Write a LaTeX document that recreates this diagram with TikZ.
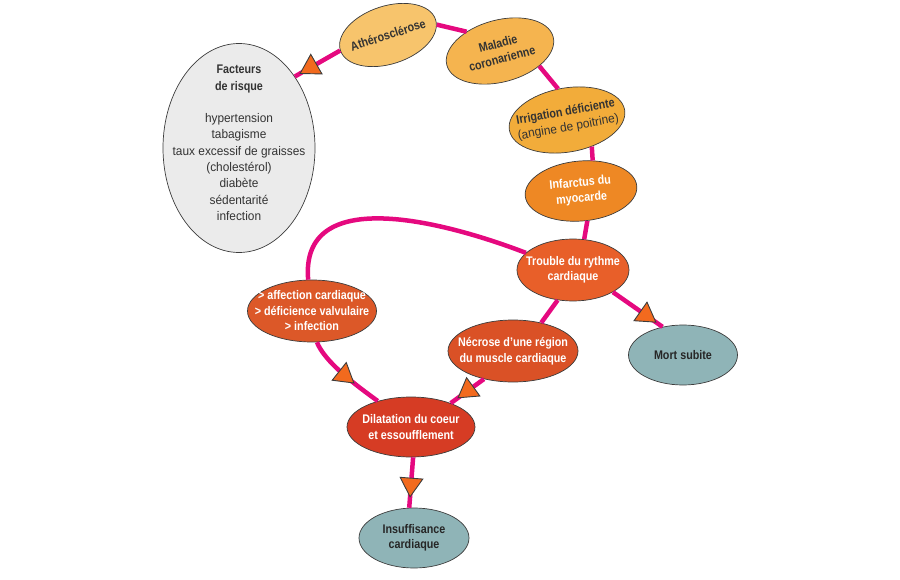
\documentclass[tikz,border=0pt]{standalone}
\usepackage{fontspec}
\setmainfont{Liberation Sans}[FakeStretch=0.95, BoldFeatures={FakeStretch=0.86}]
\usetikzlibrary{arrows.meta, shapes.geometric, decorations.markings}

\definecolor{lien}{HTML}{E5097F}
\definecolor{pointe}{HTML}{F26A1E}
\definecolor{bord}{HTML}{3C3C3C}
\definecolor{gris}{HTML}{EBEBEB}
\definecolor{athc}{HTML}{F7C46C}
\definecolor{malc}{HTML}{F5B44F}
\definecolor{irrc}{HTML}{F2AC3A}
\definecolor{infc}{HTML}{EE8824}
\definecolor{troc}{HTML}{E85F29}
\definecolor{affc}{HTML}{DC5828}
\definecolor{necc}{HTML}{DA5126}
\definecolor{dilc}{HTML}{D63C24}
\definecolor{finc}{HTML}{8FB4B7}
\definecolor{texte}{HTML}{333333}

\tikzset{
  tri/.tip={Triangle[width=24pt, length=20pt, fill=pointe, color=bord]},
  bulle/.style={ellipse, draw=bord, line width=0.7pt, inner sep=-20pt, align=center,
    font=\fontsize{12.5}{15.5}\selectfont\bfseries},
  clair/.style={bulle, text=texte},
  fonce/.style={bulle, text=white},
  issue/.style={bulle, fill=finc, text=black!85},
  trait/.style={draw=lien, line width=4.5pt},
  fleche/.style={postaction={decorate}, decoration={markings,
    mark=at position #1 with {\pgfsetlinewidth{0.9pt}\arrow{tri}}}}
}

\begin{document}
\begin{tikzpicture}[x=1pt, y=-1pt]
\useasboundingbox (0,0) rectangle (900,580);

% les bulles
\node[bulle, fill=gris, text=texte, font=\fontsize{12.5}{16.3}\selectfont,
  minimum width=152pt, minimum height=209pt] (fr) at (239,148)
  {\textbf{Facteurs}\\\textbf{de risque}\\[16pt]hypertension\\tabagisme\\taux excessif de graisses\\(cholestérol)\\diabète\\sédentarité\\infection\\[-6pt]\mbox{}};
\node[clair, fill=athc, rotate=18, minimum width=100pt, minimum height=58pt] (ath) at (388,35) {Athérosclérose};
\node[clair, fill=malc, rotate=15, minimum width=110pt, minimum height=62pt] (mal) at (500,51) {Maladie\\coronarienne};
\node[clair, fill=irrc, rotate=10, minimum width=117pt, minimum height=64pt] (irr) at (567,120) {Irrigation déficiente\\\mdseries(angine de poitrine)};
\node[fonce, fill=infc, rotate=5, minimum width=112pt, minimum height=60pt] (inf) at (581,191) {Infarctus du\\myocarde};
\node[fonce, fill=troc, minimum width=112pt, minimum height=62pt] (tro) at (573,270) {Trouble du rythme\\cardiaque};
\node[issue, minimum width=109pt, minimum height=60pt] (mort) at (683,355) {Mort subite};
\node[fonce, fill=affc, minimum width=129pt, minimum height=62pt] (aff) at (312,311) {> affection cardiaque\\> déficience valvulaire\\> infection};
\node[fonce, fill=necc, minimum width=130pt, minimum height=62pt] (nec) at (513,351) {Nécrose d’une région\\du muscle cardiaque};
\node[fonce, fill=dilc, minimum width=128pt, minimum height=60pt] (dil) at (411,427) {Dilatation du coeur\\et essoufflement};
\node[issue, minimum width=110pt, minimum height=60pt] (ins) at (414,538) {Insuffisance\\cardiaque};

% les liens
\draw[trait, fleche=0.9] (ath.180) -- (fr.52);
\draw[trait] (ath.354) -- (mal.135);
\draw[trait] (mal.324) -- (irr.96);
\draw[trait] (irr.303) -- (inf.64);
\draw[trait] (inf.277) -- (tro.70);
\draw[trait, fleche=0.88] (tro.331) -- (mort.126);
\draw[trait] (tro.160) .. controls (440,220) and (300,185) .. (aff.97);
\draw[trait] (tro.243) -- (nec.45);
\draw[trait, fleche=0.66] (aff.279) .. controls +(8,20) and +(-22,-16) .. (dil.142);
\draw[trait, fleche=0.8] (nec.224) -- (dil.31);
\draw[trait, fleche=0.8] (dil.274) -- (ins.99);

\end{tikzpicture}
\end{document}
